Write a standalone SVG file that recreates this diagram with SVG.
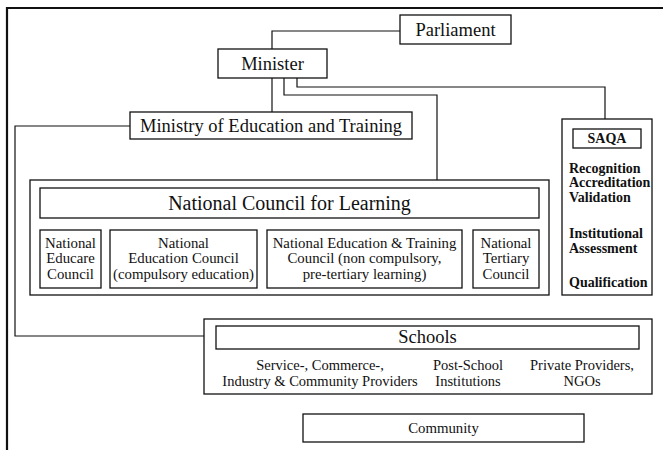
<svg xmlns="http://www.w3.org/2000/svg" width="663" height="450" viewBox="0 0 663 450">
  <style>
    .box { fill: #fff; stroke: #111; stroke-width: 1.3; }
    .line { fill: none; stroke: #111; stroke-width: 1.2; }
    .frame { fill: none; stroke: #111; stroke-width: 2.2; }
    text { font-family: "Liberation Serif", "Times New Roman", serif; fill: #111; }
    .big { font-size: 18.5px; text-anchor: middle; }
    .title { font-size: 20px; text-anchor: middle; }
    .mid { font-size: 14.8px; text-anchor: middle; }
    .small { font-size: 14.5px; text-anchor: middle; }
    .saqa { font-size: 14px; font-weight: bold; }
  </style>
  <rect width="663" height="450" fill="#fff"/>

  <!-- page frame -->
  <path class="frame" d="M7,450 V8 H663"/>

  <!-- connectors -->
  <g id="connectors">
    <path class="line" d="M272,49 V31 H400"/>
    <path class="line" d="M272,78 V112"/>
    <path class="line" d="M284,78 V95 H437 V180"/>
    <path class="line" d="M297,78 V87 H605 V119"/>
    <path class="line" d="M130,126 H15 V336 H204"/>
  </g>

  <g id="parliament">
    <rect class="box" x="400" y="15" width="111" height="29"/>
    <text class="big" x="455.5" y="36">Parliament</text>
  </g>

  <g id="minister">
    <rect class="box" x="218" y="49" width="109" height="29"/>
    <text class="big" x="272.5" y="70">Minister</text>
  </g>

  <g id="ministry">
    <rect class="box" x="130" y="112" width="282" height="27"/>
    <text class="big" x="271" y="132">Ministry of Education and Training</text>
  </g>

  <g id="saqa">
    <rect class="box" x="562" y="119" width="90" height="176"/>
    <rect class="box" x="573" y="129" width="68" height="19"/>
    <text class="saqa" x="607" y="143" text-anchor="middle">SAQA</text>
    <text class="saqa" x="569" y="173">Recognition</text>
    <text class="saqa" x="569" y="187">Accreditation</text>
    <text class="saqa" x="569" y="202">Validation</text>
    <text class="saqa" x="569" y="238">Institutional</text>
    <text class="saqa" x="569" y="253">Assessment</text>
    <text class="saqa" x="569" y="287">Qualification</text>
  </g>

  <g id="ncl">
    <rect class="box" x="30" y="180" width="519" height="115"/>
    <rect class="box" x="40" y="188" width="499" height="30"/>
    <text class="title" x="289.5" y="210">National Council for Learning</text>
  </g>

  <g id="educare">
    <rect class="box" x="40" y="230" width="61" height="58"/>
    <text class="mid" x="70.5" y="248">National</text>
    <text class="mid" x="70.5" y="263">Educare</text>
    <text class="mid" x="70.5" y="279">Council</text>
  </g>

  <g id="nec">
    <rect class="box" x="110" y="230" width="147" height="58"/>
    <text class="mid" x="183.5" y="248">National</text>
    <text class="mid" x="183.5" y="263">Education Council</text>
    <text class="mid" x="183.5" y="279">(compulsory education)</text>
  </g>

  <g id="netc">
    <rect class="box" x="267" y="230" width="195" height="58"/>
    <text class="mid" x="364.5" y="248">National Education &amp; Training</text>
    <text class="mid" x="364.5" y="263">Council (non compulsory,</text>
    <text class="mid" x="364.5" y="279">pre-tertiary learning)</text>
  </g>

  <g id="ntc">
    <rect class="box" x="473" y="230" width="66" height="58"/>
    <text class="mid" x="506" y="248">National</text>
    <text class="mid" x="506" y="263">Tertiary</text>
    <text class="mid" x="506" y="279">Council</text>
  </g>

  <g id="schools">
    <rect class="box" x="204" y="319" width="448" height="75"/>
    <rect class="box" x="216" y="326" width="423" height="23"/>
    <text class="big" x="427.5" y="343">Schools</text>
    <text class="small" x="320" y="370">Service-, Commerce-,</text>
    <text class="small" x="320" y="386">Industry &amp; Community Providers</text>
    <text class="small" x="468" y="370">Post-School</text>
    <text class="small" x="468" y="386">Institutions</text>
    <text class="small" x="582" y="370">Private Providers,</text>
    <text class="small" x="582" y="386">NGOs</text>
  </g>

  <g id="community">
    <rect class="box" x="303" y="414" width="281" height="28"/>
    <text class="mid" x="443.5" y="433" font-size="17">Community</text>
  </g>
</svg>
